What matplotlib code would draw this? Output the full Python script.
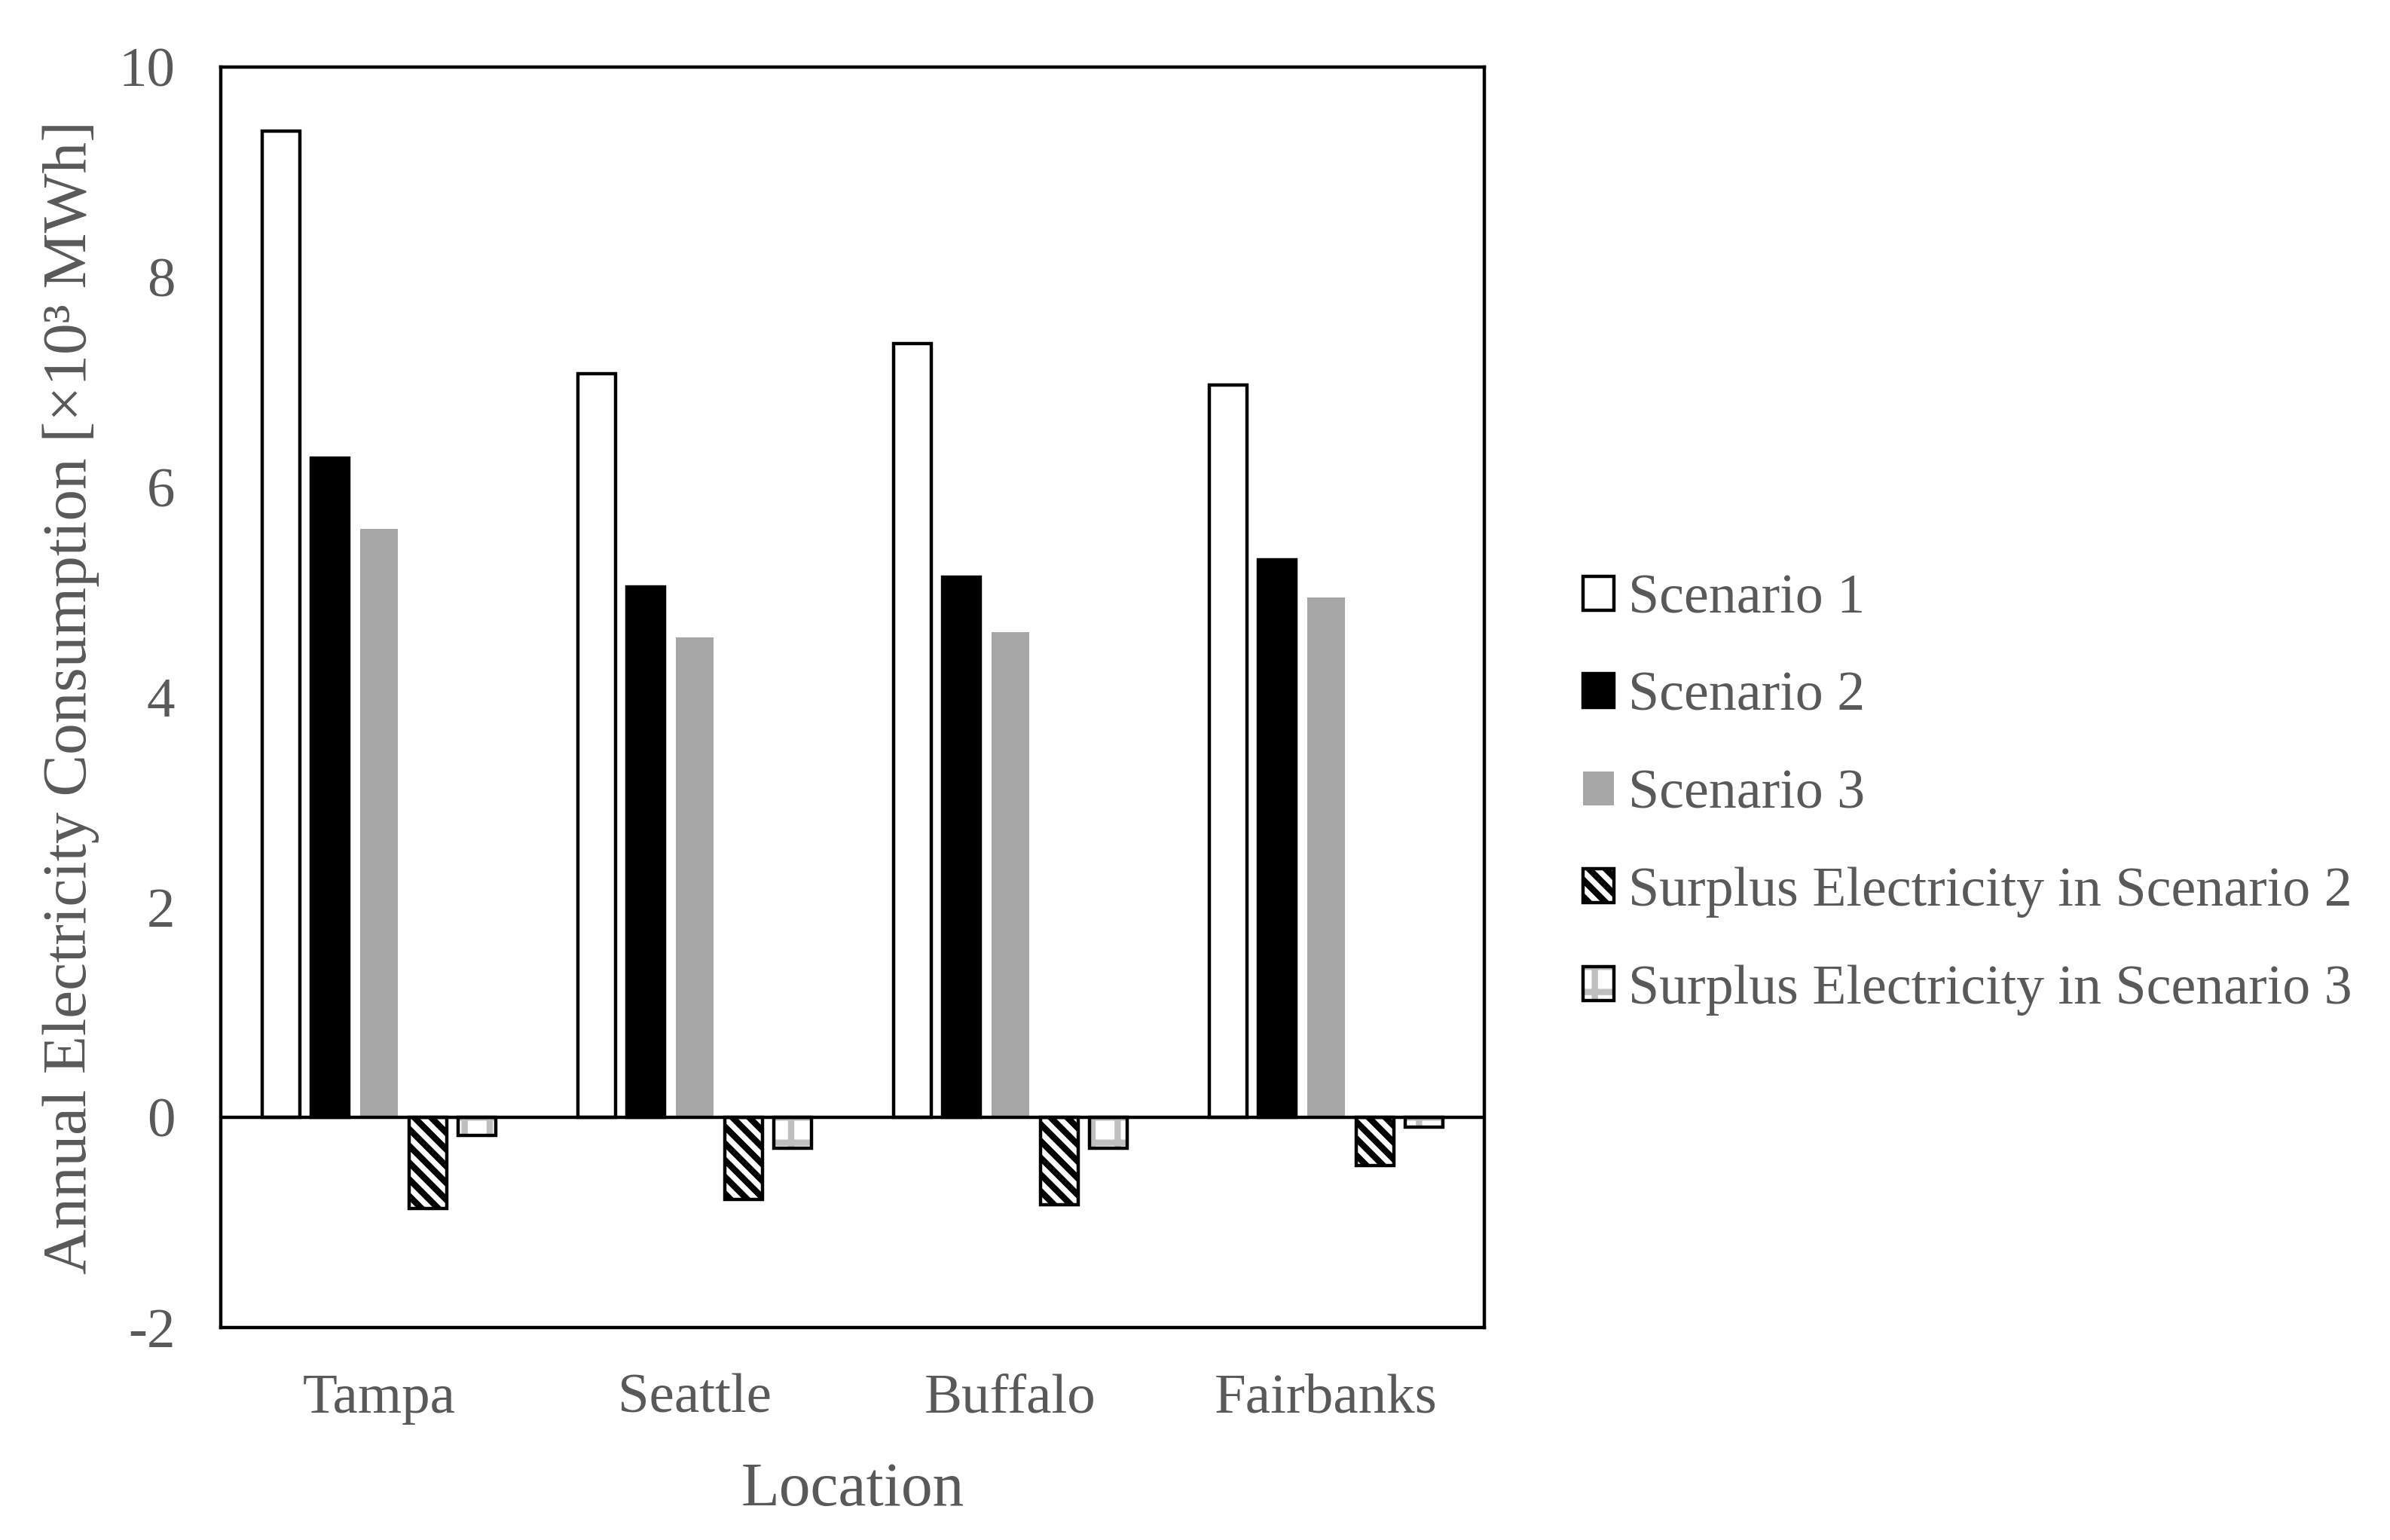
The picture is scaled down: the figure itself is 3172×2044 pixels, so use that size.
import numpy as np
import matplotlib
matplotlib.use("Agg")
import matplotlib.pyplot as plt
from matplotlib.patches import Patch

locations = ["Tampa", "Seattle", "Buffalo", "Fairbanks"]
scenario1 = [9.39, 7.08, 7.37, 6.97]
scenario2 = [6.28, 5.05, 5.14, 5.31]
scenario3 = [5.60, 4.57, 4.62, 4.95]
surplus2 = [-0.87, -0.78, -0.83, -0.46]
surplus3 = [-0.17, -0.29, -0.29, -0.09]
yticks = [-2, 0, 2, 4, 6, 8, 10]

plt.rcParams['font.family'] = ['Liberation Serif', 'DejaVu Serif']
plt.rcParams['hatch.linewidth'] = 3.0
TXT = '#595959'

fig = plt.figure(figsize=(15.86, 10.22), dpi=200)
ax = fig.add_axes([0.0925, 0.138, 0.5285, 0.8185])

x = np.arange(len(locations))
step = 0.155
w = 0.12
lw = 1.6

ax.bar(x - 2*step, scenario1, w, color='white', edgecolor='black', linewidth=lw, zorder=3)
ax.bar(x - step, scenario2, w, color='black', edgecolor='black', linewidth=lw, zorder=3)
ax.bar(x, scenario3, w, color='#A6A6A6', edgecolor='#A6A6A6', linewidth=0, zorder=3)
ax.bar(x + step, surplus2, w, color='white', edgecolor='black', hatch='\\\\\\', linewidth=lw, zorder=3)
ax.bar(x + 2*step, surplus3, w, color='white', edgecolor='#BFBFBF', hatch='+', linewidth=0, zorder=3)
ax.bar(x + 2*step, surplus3, w, color='none', edgecolor='black', linewidth=lw, zorder=4)

ax.axhline(0, color='black', linewidth=1.6, zorder=5)

ax.set_xlim(-0.5, len(locations) - 0.5)
ax.set_ylim(-2, 10)
ax.set_yticks(yticks)
ax.set_yticklabels([str(t) for t in yticks])
ax.set_xticks(x)
ax.set_xticklabels(locations)
ax.tick_params(axis='both', length=0, labelsize=27, labelcolor=TXT)
ax.tick_params(axis='x', pad=22)
ax.tick_params(axis='y', pad=22)
for s in ax.spines.values():
    s.set_linewidth(1.6)
    s.set_color('black')

ax.set_xlabel("Location", fontsize=30, color=TXT, labelpad=18)
ax.set_ylabel("Annual Electricity Consumption [×10³ MWh]", fontsize=30, color=TXT, labelpad=9)

h1 = Patch(facecolor='white', edgecolor='black', linewidth=lw)
h2 = Patch(facecolor='black', edgecolor='black', linewidth=lw)
h3 = Patch(facecolor='#A6A6A6', edgecolor='#A6A6A6', linewidth=0)
h4 = Patch(facecolor='white', edgecolor='black', hatch='\\\\\\', linewidth=lw)
h5a = Patch(facecolor='white', edgecolor='#BFBFBF', hatch='+', linewidth=0)
h5b = Patch(facecolor='none', edgecolor='black', linewidth=lw)
leg = fig.legend([h1, h2, h3, h4, (h5a, h5b)],
                 ["Scenario 1", "Scenario 2", "Scenario 3",
                  "Surplus Electricity in Scenario 2", "Surplus Electricity in Scenario 3"],
                 loc='center left', bbox_to_anchor=(0.653, 0.484), frameon=False,
                 fontsize=26.6, labelcolor=TXT, handlelength=0.56, handleheight=0.56,
                 handletextpad=0.25, labelspacing=0.84, borderaxespad=0)

fig.savefig("out.png", dpi=200)
